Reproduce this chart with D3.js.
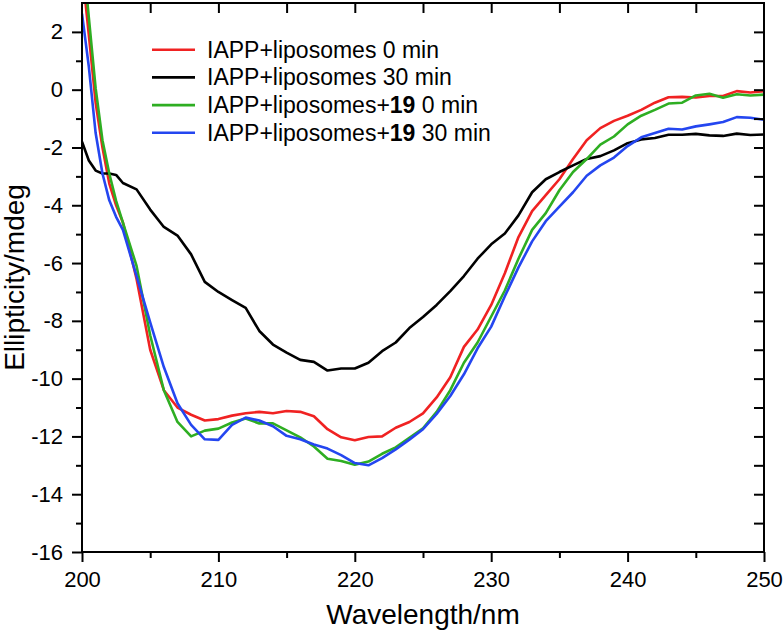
<!DOCTYPE html>
<html>
<head>
<meta charset="utf-8">
<script src="https://cdn.jsdelivr.net/npm/d3@7"></script>
<style>
  html, body { margin: 0; padding: 0; background: #fff; }
  svg { display: block; font-family: Arial, "Liberation Sans", sans-serif; }
</style>
</head>
<body>
<svg id="chart" width="784" height="641"></svg>
<script>
// ---- data ----
const wavelengths = [200,200.5,201,201.5,202,202.5,203,204,205,206,207,208,209,210,211,212,213,214,215,216,217,218,219,220,221,222,223,224,225,226,227,228,229,230,231,232,233,234,235,236,237,238,239,240,241,242,243,244,245,246,247,248,249,250];

const lipo0 = [4.2,1.9,-0.45,-2.0,-3.25,-4.0,-4.6,-6.55,-9.0,-10.4,-11.0,-11.25,-11.45,-11.4,-11.28,-11.2,-11.15,-11.2,-11.12,-11.15,-11.3,-11.75,-12.03,-12.13,-12.02,-12.0,-11.7,-11.5,-11.2,-10.65,-9.95,-8.9,-8.3,-7.45,-6.35,-5.1,-4.2,-3.65,-3.1,-2.4,-1.75,-1.33,-1.08,-0.9,-0.7,-0.45,-0.26,-0.25,-0.27,-0.22,-0.22,-0.05,-0.1,-0.05];

const lipo30 = [-1.8,-2.45,-2.8,-2.9,-2.9,-2.95,-3.23,-3.45,-4.15,-4.75,-5.05,-5.7,-6.65,-7.0,-7.28,-7.55,-8.35,-8.82,-9.1,-9.35,-9.42,-9.72,-9.65,-9.65,-9.45,-9.05,-8.75,-8.25,-7.87,-7.45,-6.97,-6.45,-5.85,-5.35,-4.98,-4.35,-3.55,-3.1,-2.85,-2.62,-2.4,-2.3,-2.1,-1.85,-1.72,-1.67,-1.56,-1.56,-1.53,-1.58,-1.6,-1.52,-1.57,-1.55];

const lipo19_0 = [5.0,2.5,0.05,-1.75,-2.9,-3.85,-4.6,-6.1,-8.5,-10.4,-11.5,-12.0,-11.8,-11.73,-11.52,-11.38,-11.55,-11.55,-11.79,-12.03,-12.35,-12.77,-12.85,-12.98,-12.87,-12.6,-12.38,-12.05,-11.72,-11.15,-10.4,-9.45,-8.75,-7.85,-6.95,-5.85,-4.85,-4.27,-3.48,-2.85,-2.4,-1.9,-1.62,-1.2,-0.9,-0.7,-0.48,-0.45,-0.2,-0.14,-0.28,-0.16,-0.2,-0.17];

const lipo19_30 = [2.63,0.8,-1.5,-2.9,-3.83,-4.4,-4.85,-6.45,-8.05,-9.6,-10.85,-11.6,-12.1,-12.12,-11.6,-11.35,-11.45,-11.65,-11.98,-12.1,-12.28,-12.42,-12.65,-12.92,-13.0,-12.75,-12.45,-12.11,-11.75,-11.22,-10.6,-9.85,-8.95,-8.2,-7.15,-6.15,-5.25,-4.55,-4.05,-3.55,-2.98,-2.62,-2.35,-1.95,-1.65,-1.5,-1.35,-1.38,-1.27,-1.2,-1.12,-0.95,-0.97,-1.04];

const seriesNames = ["IAPP+liposomes 0 min", "IAPP+liposomes 30 min", "IAPP+liposomes+19 0 min", "IAPP+liposomes+19 30 min"];
const seriesColors = ["#f02222", "#000000", "#2eae22", "#2446f0"];
const seriesValues = [lipo0, lipo30, lipo19_0, lipo19_30];

const xDomain = [200, 250];
const yDomain = [-16, 3];
const xMajorTicks = [200, 210, 220, 230, 240, 250];
const xMinorTicks = [205, 215, 225, 235, 245];
const yMajorTicks = [-16, -14, -12, -10, -8, -6, -4, -2, 0, 2];
const yMinorTicks = [-15, -13, -11, -9, -7, -5, -3, -1, 1];

// ---- layout ----
const svg = d3.select("#chart");
const mLeft = 82, mRight = 764, mTop = 3, mBottom = 552;

const x = d3.scaleLinear().domain(xDomain).range([mLeft, mRight]);
const y = d3.scaleLinear().domain(yDomain).range([mBottom, mTop]);

svg.append("defs").append("clipPath").attr("id", "plotclip")
  .append("rect").attr("x", mLeft).attr("y", mTop).attr("width", mRight - mLeft).attr("height", mBottom - mTop);

// series lines
const line = d3.line().x((d, i) => x(wavelengths[i])).y(d => y(d));
const gLines = svg.append("g").attr("clip-path", "url(#plotclip)");
seriesValues.forEach((vals, k) => {
  gLines.append("path")
    .datum(vals)
    .attr("d", line)
    .attr("fill", "none")
    .attr("stroke", seriesColors[k])
    .attr("stroke-width", 2.6)
    .attr("stroke-linejoin", "round");
});

// axes
function styleAxis(g) {
  g.selectAll(".domain").remove();
  g.selectAll(".tick line").attr("stroke", "#000").attr("stroke-width", 2);
  g.selectAll(".tick text").attr("fill", "#000");
}

// bottom
svg.append("g").attr("transform", `translate(0,${mBottom})`)
  .call(d3.axisBottom(x).tickValues(xMajorTicks).tickSize(10).tickPadding(9).tickFormat(d => String(d)))
  .call(styleAxis)
  .call(g => g.selectAll("text").attr("font-size", 22).attr("font-family", "Arial, 'Liberation Sans', sans-serif"));
svg.append("g").attr("transform", `translate(0,${mBottom})`)
  .call(d3.axisBottom(x).tickValues(xMinorTicks).tickSize(6).tickFormat(""))
  .call(styleAxis);

// left
svg.append("g").attr("transform", `translate(${mLeft},0)`)
  .call(d3.axisLeft(y).tickValues(yMajorTicks).tickSize(10).tickPadding(9).tickFormat(d => String(d)))
  .call(styleAxis)
  .call(g => g.selectAll("text").attr("font-size", 22).attr("font-family", "Arial, 'Liberation Sans', sans-serif"));
svg.append("g").attr("transform", `translate(${mLeft},0)`)
  .call(d3.axisLeft(y).tickValues(yMinorTicks).tickSize(6).tickFormat(""))
  .call(styleAxis);

// top (inward)
svg.append("g").attr("transform", `translate(0,${mTop})`)
  .call(d3.axisBottom(x).tickValues(xMajorTicks.concat(xMinorTicks).filter(v => v > 200 && v < 250)).tickSize(10).tickFormat(""))
  .call(styleAxis);
// right (inward)
svg.append("g").attr("transform", `translate(${mRight},0)`)
  .call(d3.axisLeft(y).tickValues(yMajorTicks.concat(yMinorTicks).filter(v => v > -16 && v < 3)).tickSize(10).tickFormat(""))
  .call(styleAxis);

// frame
svg.append("rect")
  .attr("x", mLeft).attr("y", mTop).attr("width", mRight - mLeft).attr("height", mBottom - mTop)
  .attr("fill", "none").attr("stroke", "#000").attr("stroke-width", 2);

// axis titles
svg.append("text")
  .attr("x", (mLeft + mRight) / 2).attr("y", 624)
  .attr("text-anchor", "middle").attr("font-size", 28)
  .text("Wavelength/nm");
svg.append("text")
  .attr("transform", `translate(24,${(mTop + mBottom) / 2}) rotate(-90)`)
  .attr("text-anchor", "middle").attr("font-size", 28)
  .text("Ellipticity/mdeg");

// legend
const legendRowsY = [49.7, 77.4, 105.1, 132.8];
const legend = svg.append("g");
seriesNames.forEach((name, k) => {
  const yy = legendRowsY[k];
  legend.append("line")
    .attr("x1", 152).attr("x2", 195).attr("y1", yy).attr("y2", yy)
    .attr("stroke", seriesColors[k]).attr("stroke-width", 2.6);
  const t = legend.append("text")
    .attr("x", 207).attr("y", yy).attr("dy", "0.35em")
    .attr("font-size", 23);
  const m = name.match(/^(.*\+)(19)( .*)$/);
  if (m) {
    t.append("tspan").text(m[1]);
    t.append("tspan").attr("font-weight", "bold").text(m[2]);
    t.append("tspan").text(m[3]);
  } else {
    t.text(name);
  }
});
</script>
</body>
</html>
